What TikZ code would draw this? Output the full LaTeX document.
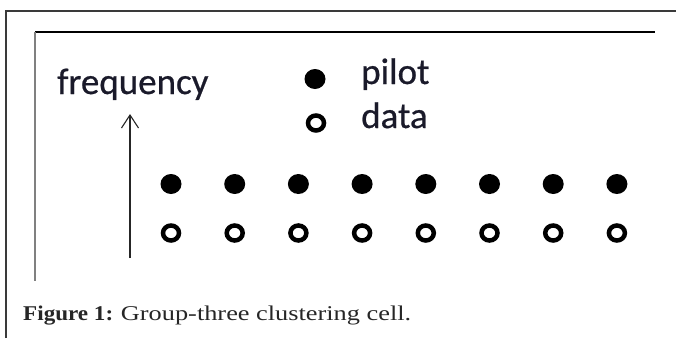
\documentclass[tikz,border=0pt]{standalone}
\usepackage{fontspec}
\setmainfont{Liberation Serif}
\newfontfamily\labelfont[FakeBold=0.6]{Carlito}
\usetikzlibrary{arrows.meta,shapes.geometric}
\definecolor{framegray}{HTML}{3A3A3A}
\definecolor{sidegray}{HTML}{808080}
\definecolor{inkdark}{HTML}{1A1A2A}
\begin{document}
\begin{tikzpicture}[x=1pt,y=-1pt,
  lbl/.style={font=\labelfont\fontsize{37}{37}\selectfont, text=inkdark, inner sep=0pt, anchor=base west},
  pilotdot/.style={ellipse, fill=black, minimum width=21pt, minimum height=20pt, inner sep=0pt},
  datadot/.style={ellipse, draw=black, line width=4.5pt, minimum width=16pt, minimum height=15pt, inner sep=0pt},
  captext/.style={font=\fontsize{21}{21}\selectfont, text=black!85, inner sep=0pt, anchor=base west, xscale=1.1}]
\useasboundingbox (0,0) rectangle (676,338);
\fill[white] (0,0) rectangle (676,338);
% outer frame (left and top edges)
\draw[framegray, line width=1.5pt] (6,338) -- (6,11) -- (676,11);
% inner frame
\draw[black, line width=1.8pt] (35,32) -- (655,32);
\draw[sidegray, line width=1.8pt] (35,32) -- (35,281);
% axis label and arrow
\node[lbl] (freq) at (57,94) {frequency};
\coordinate (abot) at (130,258);
\coordinate (atop) at (130,114);
\draw[black!85, line width=1.4pt, -{Straight Barb[length=13pt,width=17pt,line width=1.1pt]}] (abot) -- (atop);
% legend
\node[pilotdot] (lp) at (315,79) {};
\node[lbl] (lpt) at (361,84) {pilot};
\node[datadot] (ld) at (316,123) {};
\node[lbl] (ldt) at (361,128) {data};
% carrier rows
\foreach \i in {0,...,7} {
  \node[pilotdot] (p\i) at ({171+63.7*\i},184) {};
  \node[datadot] (d\i) at ({171+63.7*\i},233) {};
}
% caption: bold label, then a wider-set description
\node[captext] (caption) at (23,320) {\textbf{Figure 1:} \scalebox{1.14}[1]{Group-three clustering cell.}};
\end{tikzpicture}
\end{document}
